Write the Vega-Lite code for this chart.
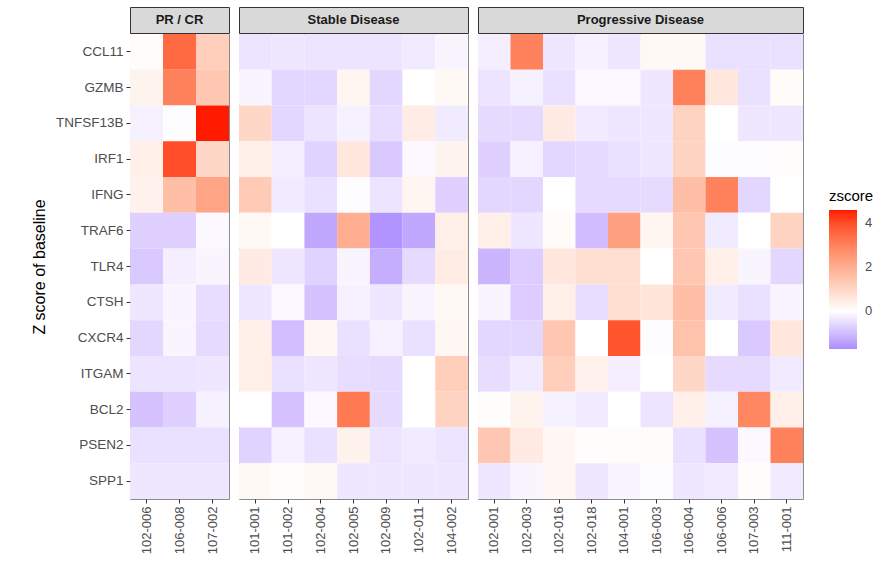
{
  "$schema": "https://vega.github.io/schema/vega-lite/v6.json",
  "padding": {"left": 30, "top": 6, "right": 5, "bottom": 5},
  "background": "white",
  "config": {
    "font": "Liberation Sans",
    "axis": {"labelColor": "#4d4d4d", "labelFontSize": 13, "tickColor": "#333333", "tickSize": 4, "domain": false, "grid": false, "labelFont": "Liberation Sans", "titleFont": "Liberation Sans", "titleFontWeight": "normal", "titleColor": "#000000", "titleFontSize": 16, "labelPadding": 3},
    "legend": {"labelFont": "Liberation Sans", "titleFont": "Liberation Sans"}
  },
  "datasets": {
    "z": [
      {"group":"PR / CR","sample":"102-006","gene":"CCL11","zscore":0.05},
      {"group":"PR / CR","sample":"106-008","gene":"CCL11","zscore":3.5},
      {"group":"PR / CR","sample":"107-002","gene":"CCL11","zscore":1.2},
      {"group":"PR / CR","sample":"102-006","gene":"GZMB","zscore":0.3},
      {"group":"PR / CR","sample":"106-008","gene":"GZMB","zscore":3.0},
      {"group":"PR / CR","sample":"107-002","gene":"GZMB","zscore":1.4},
      {"group":"PR / CR","sample":"102-006","gene":"TNFSF13B","zscore":-0.2},
      {"group":"PR / CR","sample":"106-008","gene":"TNFSF13B","zscore":-0.05},
      {"group":"PR / CR","sample":"107-002","gene":"TNFSF13B","zscore":4.6},
      {"group":"PR / CR","sample":"102-006","gene":"IRF1","zscore":0.4},
      {"group":"PR / CR","sample":"106-008","gene":"IRF1","zscore":4.0},
      {"group":"PR / CR","sample":"107-002","gene":"IRF1","zscore":1.0},
      {"group":"PR / CR","sample":"102-006","gene":"IFNG","zscore":0.35},
      {"group":"PR / CR","sample":"106-008","gene":"IFNG","zscore":1.6},
      {"group":"PR / CR","sample":"107-002","gene":"IFNG","zscore":2.2},
      {"group":"PR / CR","sample":"102-006","gene":"TRAF6","zscore":-0.7},
      {"group":"PR / CR","sample":"106-008","gene":"TRAF6","zscore":-0.7},
      {"group":"PR / CR","sample":"107-002","gene":"TRAF6","zscore":-0.1},
      {"group":"PR / CR","sample":"102-006","gene":"TLR4","zscore":-0.8},
      {"group":"PR / CR","sample":"106-008","gene":"TLR4","zscore":-0.25},
      {"group":"PR / CR","sample":"107-002","gene":"TLR4","zscore":-0.15},
      {"group":"PR / CR","sample":"102-006","gene":"CTSH","zscore":-0.35},
      {"group":"PR / CR","sample":"106-008","gene":"CTSH","zscore":-0.15},
      {"group":"PR / CR","sample":"107-002","gene":"CTSH","zscore":-0.5},
      {"group":"PR / CR","sample":"102-006","gene":"CXCR4","zscore":-0.6},
      {"group":"PR / CR","sample":"106-008","gene":"CXCR4","zscore":-0.15},
      {"group":"PR / CR","sample":"107-002","gene":"CXCR4","zscore":-0.55},
      {"group":"PR / CR","sample":"102-006","gene":"ITGAM","zscore":-0.4},
      {"group":"PR / CR","sample":"106-008","gene":"ITGAM","zscore":-0.4},
      {"group":"PR / CR","sample":"107-002","gene":"ITGAM","zscore":-0.35},
      {"group":"PR / CR","sample":"102-006","gene":"BCL2","zscore":-0.9},
      {"group":"PR / CR","sample":"106-008","gene":"BCL2","zscore":-0.7},
      {"group":"PR / CR","sample":"107-002","gene":"BCL2","zscore":-0.2},
      {"group":"PR / CR","sample":"102-006","gene":"PSEN2","zscore":-0.45},
      {"group":"PR / CR","sample":"106-008","gene":"PSEN2","zscore":-0.45},
      {"group":"PR / CR","sample":"107-002","gene":"PSEN2","zscore":-0.45},
      {"group":"PR / CR","sample":"102-006","gene":"SPP1","zscore":-0.35},
      {"group":"PR / CR","sample":"106-008","gene":"SPP1","zscore":-0.35},
      {"group":"PR / CR","sample":"107-002","gene":"SPP1","zscore":-0.35},

      {"group":"Stable Disease","sample":"101-001","gene":"CCL11","zscore":-0.4},
      {"group":"Stable Disease","sample":"101-002","gene":"CCL11","zscore":-0.35},
      {"group":"Stable Disease","sample":"102-004","gene":"CCL11","zscore":-0.4},
      {"group":"Stable Disease","sample":"102-005","gene":"CCL11","zscore":-0.4},
      {"group":"Stable Disease","sample":"102-009","gene":"CCL11","zscore":-0.4},
      {"group":"Stable Disease","sample":"102-011","gene":"CCL11","zscore":-0.3},
      {"group":"Stable Disease","sample":"104-002","gene":"CCL11","zscore":-0.15},
      {"group":"Stable Disease","sample":"101-001","gene":"GZMB","zscore":-0.15},
      {"group":"Stable Disease","sample":"101-002","gene":"GZMB","zscore":-0.6},
      {"group":"Stable Disease","sample":"102-004","gene":"GZMB","zscore":-0.6},
      {"group":"Stable Disease","sample":"102-005","gene":"GZMB","zscore":0.25},
      {"group":"Stable Disease","sample":"102-009","gene":"GZMB","zscore":-0.6},
      {"group":"Stable Disease","sample":"102-011","gene":"GZMB","zscore":0.0},
      {"group":"Stable Disease","sample":"104-002","gene":"GZMB","zscore":0.15},
      {"group":"Stable Disease","sample":"101-001","gene":"TNFSF13B","zscore":1.0},
      {"group":"Stable Disease","sample":"101-002","gene":"TNFSF13B","zscore":-0.6},
      {"group":"Stable Disease","sample":"102-004","gene":"TNFSF13B","zscore":-0.4},
      {"group":"Stable Disease","sample":"102-005","gene":"TNFSF13B","zscore":-0.2},
      {"group":"Stable Disease","sample":"102-009","gene":"TNFSF13B","zscore":-0.5},
      {"group":"Stable Disease","sample":"102-011","gene":"TNFSF13B","zscore":0.45},
      {"group":"Stable Disease","sample":"104-002","gene":"TNFSF13B","zscore":-0.3},
      {"group":"Stable Disease","sample":"101-001","gene":"IRF1","zscore":0.4},
      {"group":"Stable Disease","sample":"101-002","gene":"IRF1","zscore":-0.25},
      {"group":"Stable Disease","sample":"102-004","gene":"IRF1","zscore":-0.65},
      {"group":"Stable Disease","sample":"102-005","gene":"IRF1","zscore":0.6},
      {"group":"Stable Disease","sample":"102-009","gene":"IRF1","zscore":-0.8},
      {"group":"Stable Disease","sample":"102-011","gene":"IRF1","zscore":-0.1},
      {"group":"Stable Disease","sample":"104-002","gene":"IRF1","zscore":0.3},
      {"group":"Stable Disease","sample":"101-001","gene":"IFNG","zscore":1.3},
      {"group":"Stable Disease","sample":"101-002","gene":"IFNG","zscore":-0.3},
      {"group":"Stable Disease","sample":"102-004","gene":"IFNG","zscore":-0.45},
      {"group":"Stable Disease","sample":"102-005","gene":"IFNG","zscore":-0.05},
      {"group":"Stable Disease","sample":"102-009","gene":"IFNG","zscore":-0.4},
      {"group":"Stable Disease","sample":"102-011","gene":"IFNG","zscore":0.25},
      {"group":"Stable Disease","sample":"104-002","gene":"IFNG","zscore":-0.7},
      {"group":"Stable Disease","sample":"101-001","gene":"TRAF6","zscore":0.15},
      {"group":"Stable Disease","sample":"101-002","gene":"TRAF6","zscore":0.0},
      {"group":"Stable Disease","sample":"102-004","gene":"TRAF6","zscore":-1.3},
      {"group":"Stable Disease","sample":"102-005","gene":"TRAF6","zscore":2.0},
      {"group":"Stable Disease","sample":"102-009","gene":"TRAF6","zscore":-1.6},
      {"group":"Stable Disease","sample":"102-011","gene":"TRAF6","zscore":-1.3},
      {"group":"Stable Disease","sample":"104-002","gene":"TRAF6","zscore":0.4},
      {"group":"Stable Disease","sample":"101-001","gene":"TLR4","zscore":0.5},
      {"group":"Stable Disease","sample":"101-002","gene":"TLR4","zscore":-0.35},
      {"group":"Stable Disease","sample":"102-004","gene":"TLR4","zscore":-0.65},
      {"group":"Stable Disease","sample":"102-005","gene":"TLR4","zscore":-0.15},
      {"group":"Stable Disease","sample":"102-009","gene":"TLR4","zscore":-1.2},
      {"group":"Stable Disease","sample":"102-011","gene":"TLR4","zscore":-0.55},
      {"group":"Stable Disease","sample":"104-002","gene":"TLR4","zscore":0.45},
      {"group":"Stable Disease","sample":"101-001","gene":"CTSH","zscore":-0.35},
      {"group":"Stable Disease","sample":"101-002","gene":"CTSH","zscore":-0.1},
      {"group":"Stable Disease","sample":"102-004","gene":"CTSH","zscore":-0.9},
      {"group":"Stable Disease","sample":"102-005","gene":"CTSH","zscore":-0.2},
      {"group":"Stable Disease","sample":"102-009","gene":"CTSH","zscore":-0.35},
      {"group":"Stable Disease","sample":"102-011","gene":"CTSH","zscore":-0.15},
      {"group":"Stable Disease","sample":"104-002","gene":"CTSH","zscore":0.15},
      {"group":"Stable Disease","sample":"101-001","gene":"CXCR4","zscore":0.4},
      {"group":"Stable Disease","sample":"101-002","gene":"CXCR4","zscore":-0.95},
      {"group":"Stable Disease","sample":"102-004","gene":"CXCR4","zscore":0.2},
      {"group":"Stable Disease","sample":"102-005","gene":"CXCR4","zscore":-0.45},
      {"group":"Stable Disease","sample":"102-009","gene":"CXCR4","zscore":-0.2},
      {"group":"Stable Disease","sample":"102-011","gene":"CXCR4","zscore":-0.45},
      {"group":"Stable Disease","sample":"104-002","gene":"CXCR4","zscore":0.2},
      {"group":"Stable Disease","sample":"101-001","gene":"ITGAM","zscore":0.4},
      {"group":"Stable Disease","sample":"101-002","gene":"ITGAM","zscore":-0.45},
      {"group":"Stable Disease","sample":"102-004","gene":"ITGAM","zscore":-0.35},
      {"group":"Stable Disease","sample":"102-005","gene":"ITGAM","zscore":-0.5},
      {"group":"Stable Disease","sample":"102-009","gene":"ITGAM","zscore":-0.55},
      {"group":"Stable Disease","sample":"102-011","gene":"ITGAM","zscore":0.0},
      {"group":"Stable Disease","sample":"104-002","gene":"ITGAM","zscore":1.2},
      {"group":"Stable Disease","sample":"101-001","gene":"BCL2","zscore":0.0},
      {"group":"Stable Disease","sample":"101-002","gene":"BCL2","zscore":-0.9},
      {"group":"Stable Disease","sample":"102-004","gene":"BCL2","zscore":-0.1},
      {"group":"Stable Disease","sample":"102-005","gene":"BCL2","zscore":3.2},
      {"group":"Stable Disease","sample":"102-009","gene":"BCL2","zscore":-0.55},
      {"group":"Stable Disease","sample":"102-011","gene":"BCL2","zscore":0.0},
      {"group":"Stable Disease","sample":"104-002","gene":"BCL2","zscore":1.1},
      {"group":"Stable Disease","sample":"101-001","gene":"PSEN2","zscore":-0.65},
      {"group":"Stable Disease","sample":"101-002","gene":"PSEN2","zscore":-0.2},
      {"group":"Stable Disease","sample":"102-004","gene":"PSEN2","zscore":-0.45},
      {"group":"Stable Disease","sample":"102-005","gene":"PSEN2","zscore":0.35},
      {"group":"Stable Disease","sample":"102-009","gene":"PSEN2","zscore":-0.4},
      {"group":"Stable Disease","sample":"102-011","gene":"PSEN2","zscore":-0.3},
      {"group":"Stable Disease","sample":"104-002","gene":"PSEN2","zscore":-0.4},
      {"group":"Stable Disease","sample":"101-001","gene":"SPP1","zscore":0.15},
      {"group":"Stable Disease","sample":"101-002","gene":"SPP1","zscore":0.05},
      {"group":"Stable Disease","sample":"102-004","gene":"SPP1","zscore":0.15},
      {"group":"Stable Disease","sample":"102-005","gene":"SPP1","zscore":-0.35},
      {"group":"Stable Disease","sample":"102-009","gene":"SPP1","zscore":-0.35},
      {"group":"Stable Disease","sample":"102-011","gene":"SPP1","zscore":-0.35},
      {"group":"Stable Disease","sample":"104-002","gene":"SPP1","zscore":-0.35},

      {"group":"Progressive Disease","sample":"102-001","gene":"CCL11","zscore":-0.25},
      {"group":"Progressive Disease","sample":"102-003","gene":"CCL11","zscore":3.0},
      {"group":"Progressive Disease","sample":"102-016","gene":"CCL11","zscore":-0.35},
      {"group":"Progressive Disease","sample":"102-018","gene":"CCL11","zscore":-0.2},
      {"group":"Progressive Disease","sample":"104-001","gene":"CCL11","zscore":-0.35},
      {"group":"Progressive Disease","sample":"106-003","gene":"CCL11","zscore":0.15},
      {"group":"Progressive Disease","sample":"106-004","gene":"CCL11","zscore":0.15},
      {"group":"Progressive Disease","sample":"106-006","gene":"CCL11","zscore":-0.45},
      {"group":"Progressive Disease","sample":"107-003","gene":"CCL11","zscore":-0.45},
      {"group":"Progressive Disease","sample":"111-001","gene":"CCL11","zscore":-0.45},
      {"group":"Progressive Disease","sample":"102-001","gene":"GZMB","zscore":-0.4},
      {"group":"Progressive Disease","sample":"102-003","gene":"GZMB","zscore":-0.2},
      {"group":"Progressive Disease","sample":"102-016","gene":"GZMB","zscore":-0.45},
      {"group":"Progressive Disease","sample":"102-018","gene":"GZMB","zscore":-0.1},
      {"group":"Progressive Disease","sample":"104-001","gene":"GZMB","zscore":-0.1},
      {"group":"Progressive Disease","sample":"106-003","gene":"GZMB","zscore":-0.35},
      {"group":"Progressive Disease","sample":"106-004","gene":"GZMB","zscore":3.0},
      {"group":"Progressive Disease","sample":"106-006","gene":"GZMB","zscore":0.6},
      {"group":"Progressive Disease","sample":"107-003","gene":"GZMB","zscore":-0.45},
      {"group":"Progressive Disease","sample":"111-001","gene":"GZMB","zscore":0.1},
      {"group":"Progressive Disease","sample":"102-001","gene":"TNFSF13B","zscore":-0.55},
      {"group":"Progressive Disease","sample":"102-003","gene":"TNFSF13B","zscore":-0.55},
      {"group":"Progressive Disease","sample":"102-016","gene":"TNFSF13B","zscore":0.5},
      {"group":"Progressive Disease","sample":"102-018","gene":"TNFSF13B","zscore":-0.3},
      {"group":"Progressive Disease","sample":"104-001","gene":"TNFSF13B","zscore":-0.35},
      {"group":"Progressive Disease","sample":"106-003","gene":"TNFSF13B","zscore":-0.35},
      {"group":"Progressive Disease","sample":"106-004","gene":"TNFSF13B","zscore":1.1},
      {"group":"Progressive Disease","sample":"106-006","gene":"TNFSF13B","zscore":0.0},
      {"group":"Progressive Disease","sample":"107-003","gene":"TNFSF13B","zscore":-0.35},
      {"group":"Progressive Disease","sample":"111-001","gene":"TNFSF13B","zscore":-0.35},
      {"group":"Progressive Disease","sample":"102-001","gene":"IRF1","zscore":-0.7},
      {"group":"Progressive Disease","sample":"102-003","gene":"IRF1","zscore":-0.2},
      {"group":"Progressive Disease","sample":"102-016","gene":"IRF1","zscore":-0.6},
      {"group":"Progressive Disease","sample":"102-018","gene":"IRF1","zscore":-0.55},
      {"group":"Progressive Disease","sample":"104-001","gene":"IRF1","zscore":-0.45},
      {"group":"Progressive Disease","sample":"106-003","gene":"IRF1","zscore":-0.35},
      {"group":"Progressive Disease","sample":"106-004","gene":"IRF1","zscore":1.1},
      {"group":"Progressive Disease","sample":"106-006","gene":"IRF1","zscore":-0.05},
      {"group":"Progressive Disease","sample":"107-003","gene":"IRF1","zscore":-0.05},
      {"group":"Progressive Disease","sample":"111-001","gene":"IRF1","zscore":0.05},
      {"group":"Progressive Disease","sample":"102-001","gene":"IFNG","zscore":-0.6},
      {"group":"Progressive Disease","sample":"102-003","gene":"IFNG","zscore":-0.6},
      {"group":"Progressive Disease","sample":"102-016","gene":"IFNG","zscore":0.0},
      {"group":"Progressive Disease","sample":"102-018","gene":"IFNG","zscore":-0.55},
      {"group":"Progressive Disease","sample":"104-001","gene":"IFNG","zscore":-0.55},
      {"group":"Progressive Disease","sample":"106-003","gene":"IFNG","zscore":-0.55},
      {"group":"Progressive Disease","sample":"106-004","gene":"IFNG","zscore":1.6},
      {"group":"Progressive Disease","sample":"106-006","gene":"IFNG","zscore":3.0},
      {"group":"Progressive Disease","sample":"107-003","gene":"IFNG","zscore":-0.6},
      {"group":"Progressive Disease","sample":"111-001","gene":"IFNG","zscore":0.0},
      {"group":"Progressive Disease","sample":"102-001","gene":"TRAF6","zscore":0.4},
      {"group":"Progressive Disease","sample":"102-003","gene":"TRAF6","zscore":-0.35},
      {"group":"Progressive Disease","sample":"102-016","gene":"TRAF6","zscore":0.1},
      {"group":"Progressive Disease","sample":"102-018","gene":"TRAF6","zscore":-1.0},
      {"group":"Progressive Disease","sample":"104-001","gene":"TRAF6","zscore":2.3},
      {"group":"Progressive Disease","sample":"106-003","gene":"TRAF6","zscore":0.25},
      {"group":"Progressive Disease","sample":"106-004","gene":"TRAF6","zscore":1.4},
      {"group":"Progressive Disease","sample":"106-006","gene":"TRAF6","zscore":-0.3},
      {"group":"Progressive Disease","sample":"107-003","gene":"TRAF6","zscore":0.0},
      {"group":"Progressive Disease","sample":"111-001","gene":"TRAF6","zscore":1.1},
      {"group":"Progressive Disease","sample":"102-001","gene":"TLR4","zscore":-1.1},
      {"group":"Progressive Disease","sample":"102-003","gene":"TLR4","zscore":-0.75},
      {"group":"Progressive Disease","sample":"102-016","gene":"TLR4","zscore":0.6},
      {"group":"Progressive Disease","sample":"102-018","gene":"TLR4","zscore":0.8},
      {"group":"Progressive Disease","sample":"104-001","gene":"TLR4","zscore":0.8},
      {"group":"Progressive Disease","sample":"106-003","gene":"TLR4","zscore":0.0},
      {"group":"Progressive Disease","sample":"106-004","gene":"TLR4","zscore":1.4},
      {"group":"Progressive Disease","sample":"106-006","gene":"TLR4","zscore":0.4},
      {"group":"Progressive Disease","sample":"107-003","gene":"TLR4","zscore":-0.15},
      {"group":"Progressive Disease","sample":"111-001","gene":"TLR4","zscore":-0.6},
      {"group":"Progressive Disease","sample":"102-001","gene":"CTSH","zscore":-0.15},
      {"group":"Progressive Disease","sample":"102-003","gene":"CTSH","zscore":-0.75},
      {"group":"Progressive Disease","sample":"102-016","gene":"CTSH","zscore":0.4},
      {"group":"Progressive Disease","sample":"102-018","gene":"CTSH","zscore":-0.5},
      {"group":"Progressive Disease","sample":"104-001","gene":"CTSH","zscore":0.8},
      {"group":"Progressive Disease","sample":"106-003","gene":"CTSH","zscore":0.65},
      {"group":"Progressive Disease","sample":"106-004","gene":"CTSH","zscore":1.6},
      {"group":"Progressive Disease","sample":"106-006","gene":"CTSH","zscore":-0.3},
      {"group":"Progressive Disease","sample":"107-003","gene":"CTSH","zscore":-0.45},
      {"group":"Progressive Disease","sample":"111-001","gene":"CTSH","zscore":-0.15},
      {"group":"Progressive Disease","sample":"102-001","gene":"CXCR4","zscore":-0.6},
      {"group":"Progressive Disease","sample":"102-003","gene":"CXCR4","zscore":-0.6},
      {"group":"Progressive Disease","sample":"102-016","gene":"CXCR4","zscore":1.4},
      {"group":"Progressive Disease","sample":"102-018","gene":"CXCR4","zscore":0.0},
      {"group":"Progressive Disease","sample":"104-001","gene":"CXCR4","zscore":3.9},
      {"group":"Progressive Disease","sample":"106-003","gene":"CXCR4","zscore":-0.05},
      {"group":"Progressive Disease","sample":"106-004","gene":"CXCR4","zscore":1.5},
      {"group":"Progressive Disease","sample":"106-006","gene":"CXCR4","zscore":0.0},
      {"group":"Progressive Disease","sample":"107-003","gene":"CXCR4","zscore":-0.8},
      {"group":"Progressive Disease","sample":"111-001","gene":"CXCR4","zscore":0.6},
      {"group":"Progressive Disease","sample":"102-001","gene":"ITGAM","zscore":-0.5},
      {"group":"Progressive Disease","sample":"102-003","gene":"ITGAM","zscore":-0.3},
      {"group":"Progressive Disease","sample":"102-016","gene":"ITGAM","zscore":1.2},
      {"group":"Progressive Disease","sample":"102-018","gene":"ITGAM","zscore":0.35},
      {"group":"Progressive Disease","sample":"104-001","gene":"ITGAM","zscore":-0.25},
      {"group":"Progressive Disease","sample":"106-003","gene":"ITGAM","zscore":0.0},
      {"group":"Progressive Disease","sample":"106-004","gene":"ITGAM","zscore":1.0},
      {"group":"Progressive Disease","sample":"106-006","gene":"ITGAM","zscore":-0.55},
      {"group":"Progressive Disease","sample":"107-003","gene":"ITGAM","zscore":-0.55},
      {"group":"Progressive Disease","sample":"111-001","gene":"ITGAM","zscore":-0.3},
      {"group":"Progressive Disease","sample":"102-001","gene":"BCL2","zscore":0.05},
      {"group":"Progressive Disease","sample":"102-003","gene":"BCL2","zscore":0.3},
      {"group":"Progressive Disease","sample":"102-016","gene":"BCL2","zscore":-0.2},
      {"group":"Progressive Disease","sample":"102-018","gene":"BCL2","zscore":-0.3},
      {"group":"Progressive Disease","sample":"104-001","gene":"BCL2","zscore":0.0},
      {"group":"Progressive Disease","sample":"106-003","gene":"BCL2","zscore":-0.4},
      {"group":"Progressive Disease","sample":"106-004","gene":"BCL2","zscore":0.4},
      {"group":"Progressive Disease","sample":"106-006","gene":"BCL2","zscore":-0.2},
      {"group":"Progressive Disease","sample":"107-003","gene":"BCL2","zscore":2.9},
      {"group":"Progressive Disease","sample":"111-001","gene":"BCL2","zscore":0.4},
      {"group":"Progressive Disease","sample":"102-001","gene":"PSEN2","zscore":1.4},
      {"group":"Progressive Disease","sample":"102-003","gene":"PSEN2","zscore":0.5},
      {"group":"Progressive Disease","sample":"102-016","gene":"PSEN2","zscore":0.2},
      {"group":"Progressive Disease","sample":"102-018","gene":"PSEN2","zscore":0.05},
      {"group":"Progressive Disease","sample":"104-001","gene":"PSEN2","zscore":0.05},
      {"group":"Progressive Disease","sample":"106-003","gene":"PSEN2","zscore":0.1},
      {"group":"Progressive Disease","sample":"106-004","gene":"PSEN2","zscore":-0.45},
      {"group":"Progressive Disease","sample":"106-006","gene":"PSEN2","zscore":-0.9},
      {"group":"Progressive Disease","sample":"107-003","gene":"PSEN2","zscore":-0.1},
      {"group":"Progressive Disease","sample":"111-001","gene":"PSEN2","zscore":3.0},
      {"group":"Progressive Disease","sample":"102-001","gene":"SPP1","zscore":-0.35},
      {"group":"Progressive Disease","sample":"102-003","gene":"SPP1","zscore":-0.15},
      {"group":"Progressive Disease","sample":"102-016","gene":"SPP1","zscore":0.2},
      {"group":"Progressive Disease","sample":"102-018","gene":"SPP1","zscore":-0.35},
      {"group":"Progressive Disease","sample":"104-001","gene":"SPP1","zscore":-0.15},
      {"group":"Progressive Disease","sample":"106-003","gene":"SPP1","zscore":-0.05},
      {"group":"Progressive Disease","sample":"106-004","gene":"SPP1","zscore":-0.35},
      {"group":"Progressive Disease","sample":"106-006","gene":"SPP1","zscore":-0.3},
      {"group":"Progressive Disease","sample":"107-003","gene":"SPP1","zscore":0.05},
      {"group":"Progressive Disease","sample":"111-001","gene":"SPP1","zscore":-0.3}
    ]
  },
  "columns": 3,
  "spacing": {"row": 1, "column": 10},
  "bounds": "flush",
  "concat": [
    {
      "data": {"values": [{"label": "PR / CR"}]},
      "width": 99, "height": 26,
      "view": {"fill": "#d9d9d9", "stroke": "#333333", "strokeWidth": 1},
      "mark": {"type": "text", "fontWeight": "bold", "fontSize": 13, "color": "#1a1a1a"},
      "encoding": {"text": {"field": "label"}}
    },
    {
      "data": {"values": [{"label": "Stable Disease"}]},
      "width": 229, "height": 26,
      "view": {"fill": "#d9d9d9", "stroke": "#333333", "strokeWidth": 1},
      "mark": {"type": "text", "fontWeight": "bold", "fontSize": 13, "color": "#1a1a1a"},
      "encoding": {"text": {"field": "label"}}
    },
    {
      "data": {"values": [{"label": "Progressive Disease"}]},
      "width": 325, "height": 26,
      "view": {"fill": "#d9d9d9", "stroke": "#333333", "strokeWidth": 1},
      "mark": {"type": "text", "fontWeight": "bold", "fontSize": 13, "color": "#1a1a1a"},
      "encoding": {"text": {"field": "label"}}
    },
    {
      "data": {"name": "z"},
      "transform": [{"filter": "datum.group === 'PR / CR'"}],
      "width": 99, "height": 465,
      "view": {"stroke": "#8c8c8c", "strokeWidth": 1},
      "mark": {"type": "rect"},
      "encoding": {
        "x": {"field": "sample", "type": "nominal", "axis": {"title": null, "labelAngle": -90}},
        "y": {"field": "gene", "type": "nominal", "sort": ["CCL11","GZMB","TNFSF13B","IRF1","IFNG","TRAF6","TLR4","CTSH","CXCR4","ITGAM","BCL2","PSEN2","SPP1"], "axis": {"title": "Z score of baseline", "titlePadding": 8, "labelFontSize": 13.5}},
        "color": {"field": "zscore", "type": "quantitative",
          "scale": {"domain": [-1.7, 0, 4.6], "range": ["#ab8eff", "#ffffff", "#ff1a00"], "interpolate": "lab"},
          "legend": {"title": "zscore", "orient": "none", "legendX": 699, "legendY": 182, "titleFontSize": 15, "titleFontWeight": "normal", "titleColor": "#000000", "titlePadding": 6, "gradientLength": 139, "gradientThickness": 28, "gradientStrokeWidth": 0, "values": [0, 2, 4], "labelFontSize": 13, "labelColor": "#4d4d4d", "labelOffset": 8}}
      }
    },
    {
      "data": {"name": "z"},
      "transform": [{"filter": "datum.group === 'Stable Disease'"}],
      "width": 229, "height": 465,
      "view": {"stroke": "#8c8c8c", "strokeWidth": 1},
      "mark": {"type": "rect"},
      "encoding": {
        "x": {"field": "sample", "type": "nominal", "axis": {"title": null, "labelAngle": -90}},
        "y": {"field": "gene", "type": "nominal", "sort": ["CCL11","GZMB","TNFSF13B","IRF1","IFNG","TRAF6","TLR4","CTSH","CXCR4","ITGAM","BCL2","PSEN2","SPP1"], "axis": null},
        "color": {"field": "zscore", "type": "quantitative",
          "scale": {"domain": [-1.7, 0, 4.6], "range": ["#ab8eff", "#ffffff", "#ff1a00"], "interpolate": "lab"},
          "legend": {"title": "zscore", "orient": "none", "legendX": 699, "legendY": 182, "titleFontSize": 15, "titleFontWeight": "normal", "titleColor": "#000000", "titlePadding": 6, "gradientLength": 139, "gradientThickness": 28, "gradientStrokeWidth": 0, "values": [0, 2, 4], "labelFontSize": 13, "labelColor": "#4d4d4d", "labelOffset": 8}}
      }
    },
    {
      "data": {"name": "z"},
      "transform": [{"filter": "datum.group === 'Progressive Disease'"}],
      "width": 325, "height": 465,
      "view": {"stroke": "#8c8c8c", "strokeWidth": 1},
      "mark": {"type": "rect"},
      "encoding": {
        "x": {"field": "sample", "type": "nominal", "axis": {"title": null, "labelAngle": -90}},
        "y": {"field": "gene", "type": "nominal", "sort": ["CCL11","GZMB","TNFSF13B","IRF1","IFNG","TRAF6","TLR4","CTSH","CXCR4","ITGAM","BCL2","PSEN2","SPP1"], "axis": null},
        "color": {"field": "zscore", "type": "quantitative",
          "scale": {"domain": [-1.7, 0, 4.6], "range": ["#ab8eff", "#ffffff", "#ff1a00"], "interpolate": "lab"},
          "legend": {"title": "zscore", "orient": "none", "legendX": 699, "legendY": 182, "titleFontSize": 15, "titleFontWeight": "normal", "titleColor": "#000000", "titlePadding": 6, "gradientLength": 139, "gradientThickness": 28, "gradientStrokeWidth": 0, "values": [0, 2, 4], "labelFontSize": 13, "labelColor": "#4d4d4d", "labelOffset": 8}}
      }
    }
  ]
}
